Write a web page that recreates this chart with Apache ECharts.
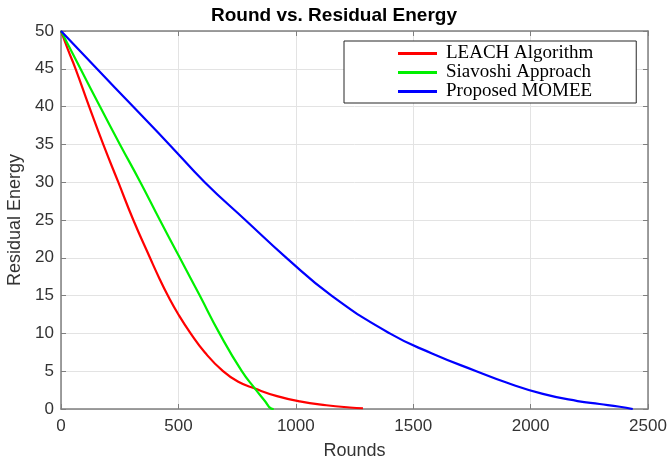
<!DOCTYPE html>
<html>
<head>
<meta charset="utf-8">
<script src="https://cdn.jsdelivr.net/npm/echarts@6/dist/echarts.min.js"></script>
<style>html,body{margin:0;padding:0;background:#fff;}#c{width:668px;height:458px;}</style>
</head>
<body>
<div id="c"></div>
<script>
var xTicks = [0, 500, 1000, 1500, 2000, 2500];
var yTicks = [0, 5, 10, 15, 20, 25, 30, 35, 40, 45, 50];
var seriesNames = ['LEACH Algorithm', 'Siavoshi Approach', 'Proposed MOMEE'];

var leachRounds = [0, 30, 62, 120, 180, 244, 308, 379, 420, 455, 500, 552, 612, 690, 755, 826, 920, 1017, 1130, 1230, 1286];
var leachEnergy = [50, 47.5, 45, 40, 35, 30, 25, 20, 17.2, 15, 12.5, 10, 7.5, 5, 3.6, 2.7, 1.7, 1.0, 0.5, 0.2, 0.1];

var siavoshiRounds = [0, 83, 166, 251, 338, 421, 506, 591, 675, 770, 826, 870, 893, 906];
var siavoshiEnergy = [50, 45, 40, 35, 30, 25, 20, 15, 10, 5, 2.7, 1.0, 0.1, 0];

var momeeRounds = [0, 153, 307, 461, 612, 785, 960, 1152, 1400, 1580, 1769, 1897, 2052, 2200, 2294, 2380, 2435];
var momeeEnergy = [50, 45, 40, 35, 30, 25, 20, 15, 10, 7.35, 5, 3.5, 2, 1.05, 0.66, 0.3, 0];

function pairs(xs, ys) { return xs.map(function (x, i) { return [x, ys[i]]; }); }

var xMin = xTicks[0], xMax = xTicks[xTicks.length - 1], xInt = xTicks[1] - xTicks[0];
var yMin = yTicks[0], yMax = yTicks[yTicks.length - 1], yInt = yTicks[1] - yTicks[0];
var frameColor = '#7f7f7f';
var labelColor = '#333333';
var sans = 'Liberation Sans, Arial, sans-serif';

function frameAxis(pos, min, max, interval) {
  return {
    type: 'value', min: min, max: max, interval: interval, position: pos,
    axisLine: {show: true, onZero: false, lineStyle: {color: frameColor, width: 1.5}},
    axisTick: {show: true, inside: true, length: 5, lineStyle: {color: frameColor}},
    axisLabel: {show: false}, splitLine: {show: false}
  };
}

var chart = echarts.init(document.getElementById('c'), null, {renderer: 'canvas'});
chart.setOption({
  animation: false,
  backgroundColor: '#ffffff',
  title: {
    text: 'Round vs. Residual Energy',
    left: 'center',
    top: 3,
    padding: [3, 0, 3, 41],
    textStyle: {fontFamily: sans, fontSize: 19, fontWeight: 'bold', color: '#000'}
  },
  grid: {left: 61, right: 20, top: 31, bottom: 49, containLabel: false, outerBoundsMode: 'none'},
  legend: {
    orient: 'vertical',
    left: 344,
    top: 41,
    padding: [3, 43, 2, 54],
    icon: 'rect',
    itemWidth: 39,
    itemHeight: 3,
    itemGap: 0,
    borderColor: '#262626',
    borderWidth: 1,
    backgroundColor: '#ffffff',
    data: seriesNames,
    textStyle: {fontFamily: 'Liberation Serif, Times New Roman, serif', fontSize: 19, lineHeight: 18, color: '#000', padding: [0, 0, 0, 4]}
  },
  xAxis: [{
    type: 'value', min: xMin, max: xMax, interval: xInt, position: 'bottom',
    name: 'Rounds', nameLocation: 'middle', nameGap: 33,
    nameTextStyle: {fontFamily: sans, fontSize: 18, color: labelColor},
    axisLine: {show: true, onZero: false, lineStyle: {color: frameColor, width: 1.5}},
    axisTick: {show: true, inside: true, length: 5, lineStyle: {color: frameColor}},
    axisLabel: {fontFamily: sans, fontSize: 17, color: labelColor, margin: 9,
      formatter: function (v) { return String(v); }},
    splitLine: {show: true, lineStyle: {color: '#e3e3e3', width: 1}}
  }, frameAxis('top', xMin, xMax, xInt)],
  yAxis: [{
    type: 'value', min: yMin, max: yMax, interval: yInt, position: 'left',
    name: 'Residual Energy', nameLocation: 'middle', nameGap: 35,
    nameTextStyle: {fontFamily: sans, fontSize: 18, color: labelColor},
    axisLine: {show: true, onZero: false, lineStyle: {color: frameColor, width: 1.5}},
    axisTick: {show: true, inside: true, length: 5, lineStyle: {color: frameColor}},
    axisLabel: {fontFamily: sans, fontSize: 17, color: labelColor, margin: 7},
    splitLine: {show: true, lineStyle: {color: '#e3e3e3', width: 1}}
  }, frameAxis('right', yMin, yMax, yInt)],
  series: [{
    name: seriesNames[0], type: 'line', symbol: 'none', smooth: 0.5,
    data: pairs(leachRounds, leachEnergy),
    lineStyle: {color: '#ff0000', width: 2.2}, itemStyle: {color: '#ff0000'}
  }, {
    name: seriesNames[1], type: 'line', symbol: 'none', smooth: 0.5,
    data: pairs(siavoshiRounds, siavoshiEnergy),
    lineStyle: {color: '#00f000', width: 2.2}, itemStyle: {color: '#00f000'}
  }, {
    name: seriesNames[2], type: 'line', symbol: 'none', smooth: 0.5,
    data: pairs(momeeRounds, momeeEnergy),
    lineStyle: {color: '#0000ff', width: 2.2}, itemStyle: {color: '#0000ff'}
  }]
});
</script>
</body>
</html>
